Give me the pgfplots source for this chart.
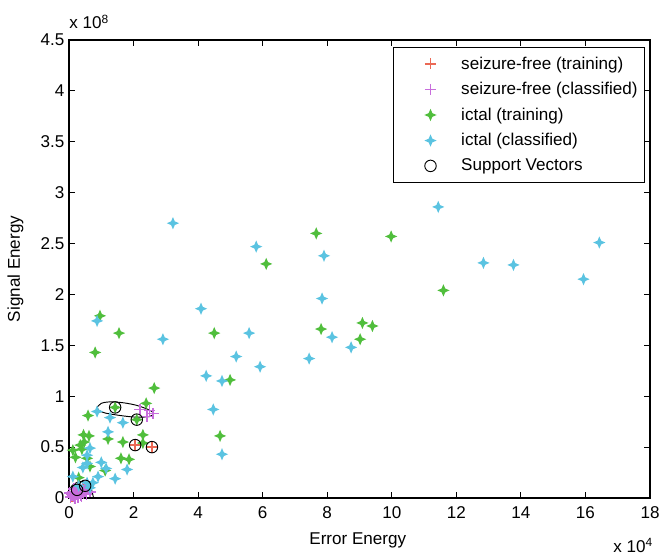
\documentclass[border=0pt]{standalone}
\usepackage{fontspec}
\setmainfont{Liberation Sans}
\usepackage{pgfplots}
\pgfplotsset{compat=1.18}
\definecolor{sfred}{RGB}{235,105,85}
\definecolor{sfmag}{RGB}{200,110,220}
\definecolor{icgreen}{RGB}{80,190,60}
\definecolor{iccyan}{RGB}{90,195,225}
\pgfdeclareplotmark{star4}{%
  \pgfpathmoveto{\pgfqpoint{0pt}{\pgfplotmarksize}}%
  \pgfpathlineto{\pgfqpoint{0.3\pgfplotmarksize}{0.3\pgfplotmarksize}}%
  \pgfpathlineto{\pgfqpoint{\pgfplotmarksize}{0pt}}%
  \pgfpathlineto{\pgfqpoint{0.3\pgfplotmarksize}{-0.3\pgfplotmarksize}}%
  \pgfpathlineto{\pgfqpoint{0pt}{-\pgfplotmarksize}}%
  \pgfpathlineto{\pgfqpoint{-0.3\pgfplotmarksize}{-0.3\pgfplotmarksize}}%
  \pgfpathlineto{\pgfqpoint{-\pgfplotmarksize}{0pt}}%
  \pgfpathlineto{\pgfqpoint{-0.3\pgfplotmarksize}{0.3\pgfplotmarksize}}%
  \pgfpathclose
  \pgfusepathqfill
}
\begin{document}
\begin{tikzpicture}
\useasboundingbox (-51.75pt,-42pt) rectangle (443.25pt,373.5pt);
\begin{axis}[
  scale only axis, width=435.75pt, height=343.5pt,
  xmin=0, xmax=18, ymin=0, ymax=4.5,
  xtick={0,2,...,18}, ytick={0,0.5,...,4.5},
  tick align=inside, major tick length=4.5pt,
  tick style={black, line width=0.7pt},
  axis line style={black, line width=0.8pt},
  /pgf/number format/assume math mode=true,
  ticklabel style={font=\fontsize{12.8}{15}\selectfont},
  xticklabel style={yshift=-3pt},
  xlabel={Error Energy}, ylabel={Signal Energy},
  every axis x label/.style={at={(axis description cs:0.497,-0.092)}, anchor=center, font=\fontsize{12.8}{15}\selectfont},
  every axis y label/.style={at={(axis description cs:-0.092,0.5)}, rotate=90, anchor=center, font=\fontsize{12.8}{15}\selectfont},
  legend style={at={(0.991,0.985)}, anchor=north east, draw=black, line width=0.7pt,
    font=\fontsize{12.8}{15}\selectfont, row sep=4.4pt, inner ysep=5pt, nodes={inner ysep=2pt}},
  legend cell align=left,
  legend image code/.code={\draw[#1, only marks] plot coordinates {(0.86cm,0cm)}; \path (0cm,0cm) (1.58cm,0cm);},
]
\addplot[only marks, mark=+, mark size=4.2pt, sfred, line width=1.1pt] coordinates {
(2.05,0.52)(2.57,0.50)(0.2,0.03)(0.35,0.05)(0.1,0.02)(0.45,0.08)};
\addlegendentry{seizure-free (training)}
\addplot[only marks, mark=+, mark size=4.2pt, sfmag, line width=1.1pt] coordinates {
(0.05,0.01)(0.1,0.03)(0.15,0.02)(0.2,0.05)(0.25,0.04)(0.3,0.06)(0.35,0.03)(0.4,0.07)(0.45,0.05)(0.5,0.08)(0.12,0.06)(0.22,0.08)(0.3,0.1)(0.08,0.04)(0.55,0.04)(0.18,0.0)(0.28,0.01)(0.38,0.02)(0.6,0.1)(0.42,0.1)(0.02,0.05)(0.15,0.09)(0.65,0.06)(0.5,0.12)
(2.2,0.87)(2.42,0.80)(2.6,0.83)(2.5,0.86)};
\addlegendentry{seizure-free (classified)}
\addplot[only marks, mark=star4, mark size=4.6pt, icgreen] coordinates {
(7.66,2.60)(6.11,2.30)(9.98,2.57)(0.96,1.79)(1.55,1.62)(0.81,1.43)(4.5,1.62)(7.81,1.66)(9.09,1.72)(9.4,1.69)(9.02,1.56)(4.99,1.16)(11.6,2.04)(2.64,1.08)(2.39,0.93)(1.43,0.89)(2.1,0.77)(0.59,0.81)(0.62,0.61)(0.47,0.55)(0.4,0.48)(1.21,0.58)(1.67,0.55)(2.29,0.62)(2.29,0.54)(1.61,0.39)(1.86,0.38)(0.56,0.39)(0.12,0.47)(1.12,0.27)(4.68,0.61)(0.65,0.31)(0.3,0.2)(0.45,0.62)(0.35,0.52)(0.2,0.4)};
\addlegendentry{ictal (training)}
\addplot[only marks, mark=star4, mark size=4.6pt, iccyan] coordinates {
(3.22,2.70)(5.8,2.47)(7.9,2.38)(7.84,1.96)(4.09,1.86)(0.87,1.74)(2.91,1.56)(5.58,1.62)(8.15,1.58)(8.74,1.48)(5.18,1.39)(7.44,1.37)(5.92,1.29)(4.25,1.20)(4.74,1.15)(11.44,2.86)(16.43,2.51)(12.84,2.31)(13.77,2.29)(15.94,2.15)(4.47,0.87)(4.74,0.43)(0.87,0.85)(1.27,0.79)(1.67,0.74)(1.21,0.65)(0.56,0.34)(0.43,0.30)(1.8,0.28)(1.15,0.29)(1.43,0.19)(0.9,0.21)(0.74,0.15)(0.12,0.21)(0.56,0.15)(0.65,0.10)(0.56,0.42)(0.65,0.49)(0.3,0.12)(1.0,0.35)};
\addlegendentry{ictal (classified)}
\addplot[only marks, mark=o, mark size=4.3pt, black, line width=0.7pt] coordinates {
(1.43,0.89)(2.1,0.77)(2.05,0.52)(2.57,0.50)(0.25,0.08)(0.5,0.12)};
\addlegendentry{Support Vectors}
\addplot[black, line width=0.7pt, smooth, forget plot] coordinates {
(0.87,0.89)(1.0,0.93)(1.27,0.945)(1.7,0.935)(2.1,0.91)(2.45,0.87)(2.62,0.835)(2.5,0.80)(2.05,0.795)(1.6,0.81)(1.12,0.835)(0.93,0.86)(0.87,0.89)};
\addplot[black, line width=0.7pt, smooth, forget plot] coordinates {
(0.0,0.06)(0.09,0.12)(0.31,0.16)(0.56,0.15)(0.68,0.10)(0.74,0.03)(0.76,0.0)};
\end{axis}
\node[anchor=base west, inner sep=0, font=\fontsize{12.8}{15}\selectfont] at (0pt,351.75pt) {x 10\textsuperscript{8}};
\node[anchor=base west, inner sep=0, font=\fontsize{12.8}{15}\selectfont] at (408pt,-40.5pt) {x 10\textsuperscript{4}};
\end{tikzpicture}
\end{document}
